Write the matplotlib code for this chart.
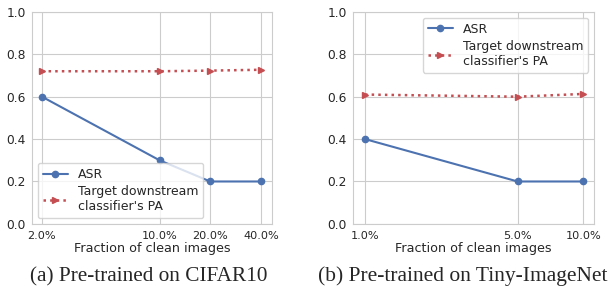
import matplotlib
matplotlib.use('Agg')
import matplotlib.pyplot as plt
from matplotlib.ticker import FixedLocator, FuncFormatter, NullLocator
import seaborn as sns

sns.set_style('whitegrid')
plt.rcParams['font.family'] = ['DejaVu Sans']

# panel (a): CIFAR10
frac_a = [2, 10, 20, 40]
asr_a = [0.6, 0.3, 0.2, 0.2]
pa_a = [0.72, 0.72, 0.723, 0.727]

# panel (b): Tiny-ImageNet
frac_b = [1, 5, 10]
asr_b = [0.4, 0.2, 0.2]
pa_b = [0.61, 0.60, 0.613]

captions = ['(a) Pre-trained on CIFAR10', '(b) Pre-trained on Tiny-ImageNet']
blue = '#4C72B0'
red = '#C44E52'

fig = plt.figure(figsize=(6.15, 2.9), dpi=100)
ax_a = fig.add_axes([0.052, 0.228, 0.390, 0.731])
ax_b = fig.add_axes([0.574, 0.228, 0.392, 0.731])

panels = [
    (ax_a, frac_a, asr_a, pa_a, (1.745, 46.5), 'lower left'),
    (ax_b, frac_b, asr_b, pa_b, (0.881, 11.2), 'upper right'),
]

for ax, frac, asr, pa, xlim, loc in panels:
    ax.plot(frac, asr, '-o', color=blue, lw=1.5, ms=4.5, label='ASR')
    ax.plot(frac, pa, ':>', color=red, lw=1.8, ms=4.5,
            label="Target downstream\nclassifier's PA")
    ax.set_xscale('log')
    ax.set_xlim(*xlim)
    ax.set_ylim(0, 1.0)
    ax.xaxis.set_major_locator(FixedLocator(frac))
    ax.xaxis.set_minor_locator(NullLocator())
    ax.xaxis.set_major_formatter(FuncFormatter(lambda v, p: '%.1f%%' % v))
    ax.set_yticks([0, 0.2, 0.4, 0.6, 0.8, 1.0])
    ax.set_yticklabels(['0.0', '0.2', '0.4', '0.6', '0.8', '1.0'])
    ax.tick_params(axis='y', labelsize=8.8, pad=1, colors='#262626')
    ax.tick_params(axis='x', labelsize=8.1, pad=1.5, colors='#262626')
    ax.set_xlabel('Fraction of clean images', fontsize=9.2, labelpad=0.5,
                  color='#262626')
    for s in ax.spines.values():
        s.set_color('#cccccc')
    ax.legend(loc=loc, fontsize=9, frameon=True, handlelength=2.0,
              labelspacing=0.35, borderpad=0.4, borderaxespad=0.45)

fig.text(0.241, 0.03, captions[0], ha='center', fontsize=15.3,
         family='Liberation Serif')
fig.text(0.752, 0.03, captions[1], ha='center', fontsize=15.5,
         family='Liberation Serif')

fig.savefig('out.png', dpi=100)
